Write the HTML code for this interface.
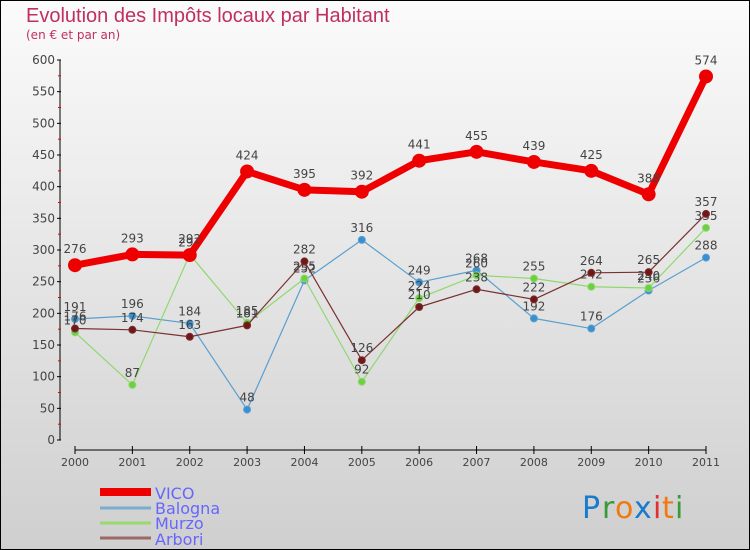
<!DOCTYPE html>
<html><head><meta charset="utf-8"><style>
html,body{margin:0;padding:0}
body{width:750px;height:550px;overflow:hidden;font-family:"DejaVu Sans","Liberation Sans",sans-serif}
svg{display:block}
text{font-family:"DejaVu Sans","Liberation Sans",sans-serif}
</style></head><body>
<svg width="750" height="550" viewBox="0 0 750 550">
<defs><linearGradient id="bg" x1="0" y1="0" x2="0" y2="1"><stop offset="0" stop-color="#fbfbfb"/><stop offset="1" stop-color="#cfcfcf"/></linearGradient></defs>
<rect x="0.5" y="0.5" width="749" height="549" fill="url(#bg)" stroke="#000"/>
<text x="26" y="22" font-size="20" fill="#c0305e" style="font-family:'Liberation Sans',sans-serif">Evolution des Impôts locaux par Habitant</text>
<text x="26" y="39" font-size="12" fill="#c0305e">(en € et par an)</text>
<g id="axes"></g>
<g id="series"></g>
<g>
<rect x="100" y="488" width="51" height="8" fill="#e00"/>
<line x1="100" y1="508" x2="151" y2="508" stroke="#7aaed0" stroke-width="3"/>
<line x1="100" y1="523" x2="151" y2="523" stroke="#9ad870" stroke-width="3"/>
<line x1="100" y1="538" x2="151" y2="538" stroke="#9a6a6a" stroke-width="3"/>
<text x="155" y="499" font-size="16" fill="#6666ff">VICO</text>
<text x="155" y="514" font-size="16" fill="#6666ff">Balogna</text>
<text x="155" y="529" font-size="16" fill="#6666ff">Murzo</text>
<text x="155" y="545" font-size="16" fill="#6666ff">Arbori</text>
</g>
<g font-size="30">
<text x="582" y="518" fill="#1a7acc">P</text><text x="602" y="518" fill="#3a9a3a">r</text><text x="615" y="518" fill="#f07a10">o</text><text x="634" y="518" fill="#1a7acc">x</text><text x="653" y="518" fill="#e03030">i</text><text x="662" y="518" fill="#f07a10">t</text><text x="675" y="518" fill="#3a9a3a">i</text>
</g>
</svg>
<script>
const years=["2000","2001","2002","2003","2004","2005","2006","2007","2008","2009","2010","2011"];
const yTicks=[0,50,100,150,200,250,300,350,400,450,500,550,600];
const vico=[276,293,292,424,395,392,441,455,439,425,388,574];
const balogna=[191,196,184,48,252,316,249,268,192,176,236,288];
const murzo=[170,87,293,185,255,92,224,260,255,242,240,335];
const arbori=[176,174,163,181,282,126,210,238,222,264,265,357];
const NS="http://www.w3.org/2000/svg";
function xs(i){return 75+i*(706-75)/(years.length-1);}
function ys(v){return 440-v*380/600;}
function mk(t,a,p){const e=document.createElementNS(NS,t);for(const k in a)e.setAttribute(k,a[k]);p.appendChild(e);return e;}
const ax=document.getElementById('axes');
const yl=mk('line',{x1:60,y1:60,x2:60,y2:440,stroke:'#000','stroke-width':1},ax);


yTicks.forEach(v=>{
 mk('line',{x1:57,y1:ys(v),x2:61,y2:ys(v),stroke:'#000'},ax);
 if(v<600) mk('line',{x1:58,y1:ys(v+25),x2:61,y2:ys(v+25),stroke:'#e00'},ax);
 const t=mk('text',{x:55,y:ys(v)+4,'text-anchor':'end','font-size':12,fill:'#444'},ax);
 t.textContent=v;
 
 
});
const xl=mk('line',{x1:75,y1:450,x2:706,y2:450,stroke:'#000'},ax);


years.forEach((y,i)=>{
 mk('line',{x1:xs(i),y1:446,x2:xs(i),y2:454,stroke:'#000'},ax);
 const t=mk('text',{x:xs(i),y:466,'text-anchor':'middle','font-size':11,fill:'#444'},ax);
 t.textContent=y;
 
 
});
const sg=document.getElementById('series');
function draw(name,data,color,w,r,fill){
 const g=mk('g',{},sg);
 
 
 const pl=mk('polyline',{points:data.map((v,i)=>xs(i)+','+ys(v)).join(' '),fill:'none',stroke:color,'stroke-width':w,'stroke-linejoin':'round'},g);
 
 
 data.forEach((v,i)=>{
  const c=mk('circle',{cx:xs(i),cy:ys(v),r:r,fill:fill,stroke:color,'stroke-width':1},g);
  
  
  const t=mk('text',{x:xs(i),y:ys(v)-8-(r>5?4:0),'text-anchor':'middle','font-size':12,fill:'#444'},g);
  t.textContent=v;
  
  
 });
}
draw('balogna',balogna,'#5a9fd0',1.2,3.5,'#3a8fd0');
draw('murzo',murzo,'#8fd870',1.2,3.5,'#6cd040');
draw('arbori',arbori,'#7a3030',1.2,3.5,'#701818');
draw('vico',vico,'#e00',7,6.5,'#e00');
</script>
</body></html>
